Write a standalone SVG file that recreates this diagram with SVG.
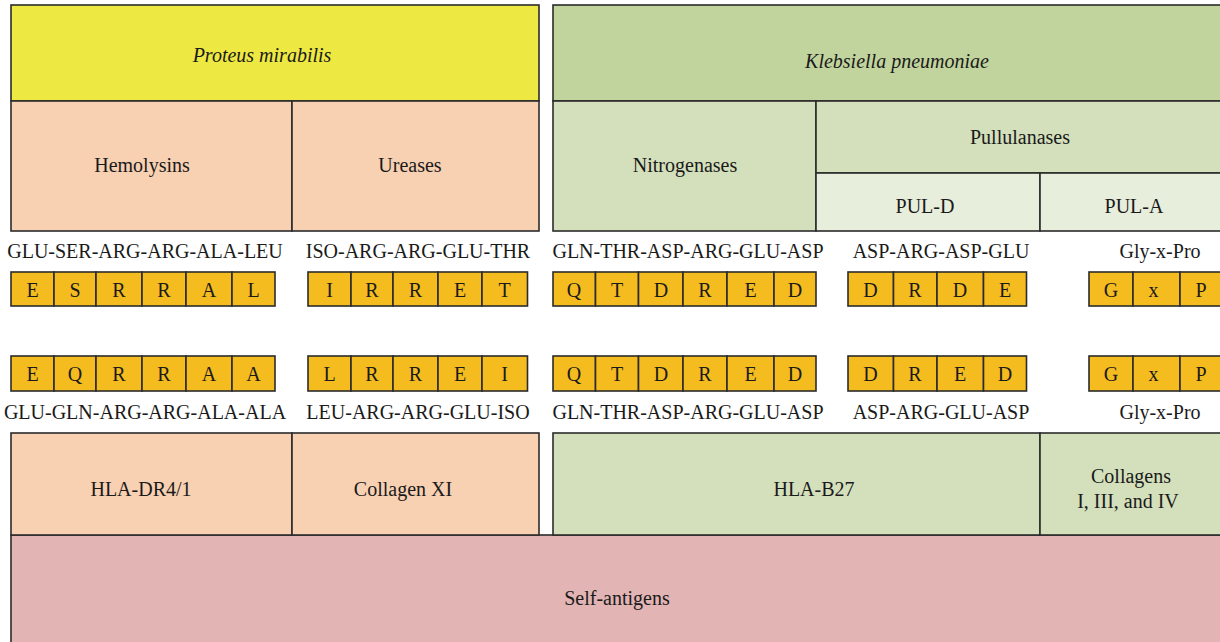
<svg xmlns="http://www.w3.org/2000/svg" width="1220" height="642" viewBox="0 0 1220 642">
<style>
  .b { stroke: #2b2b2b; stroke-width: 1.6; }
  .yel { fill: #EEE942; }
  .pch { fill: #F8D0B2; }
  .kg { fill: #C2D49D; }
  .lg { fill: #D4E0BC; }
  .vlg { fill: #E7EEDB; }
  .aa { fill: #F5BC1F; stroke: #2b2b2b; stroke-width: 1.6; }
  .self { fill: #E2B4B4; }
  text { font-family: "Liberation Serif", "DejaVu Serif", serif; font-size: 20px; fill: #1a1a1a; text-anchor: middle; }
  .it { font-style: italic; }
</style>
<rect width="1220" height="642" fill="#ffffff"/>

<g id="self-antigens">
  <rect class="b self" x="11" y="535" width="1225" height="120"/>
  <text x="617" y="605">Self-antigens</text>
</g>

<g id="proteus">
  <rect class="b yel" x="11" y="5" width="528" height="96"/>
  <text class="it" x="262" y="62">Proteus mirabilis</text>
</g>
<g id="hemolysins">
  <rect class="b pch" x="11" y="101" width="281" height="130"/>
  <text x="142" y="172">Hemolysins</text>
</g>
<g id="ureases">
  <rect class="b pch" x="292" y="101" width="247" height="130"/>
  <text x="410" y="172">Ureases</text>
</g>

<g id="klebsiella">
  <rect class="b kg" x="553" y="5" width="690" height="96"/>
  <text class="it" x="897" y="68">Klebsiella pneumoniae</text>
</g>
<g id="nitrogenases">
  <rect class="b lg" x="553" y="101" width="263" height="130"/>
  <text x="685" y="172">Nitrogenases</text>
</g>
<g id="pullulanases">
  <rect class="b lg" x="816" y="101" width="420" height="72"/>
  <text x="1020" y="144">Pullulanases</text>
</g>
<g id="pul-d">
  <rect class="b vlg" x="816" y="173" width="224" height="58"/>
  <text x="925" y="213">PUL-D</text>
</g>
<g id="pul-a">
  <rect class="b vlg" x="1040" y="173" width="196" height="58"/>
  <text x="1134" y="213">PUL-A</text>
</g>

<g id="labels-top">
  <text x="145" y="258">GLU-SER-ARG-ARG-ALA-LEU</text>
  <text x="418" y="258">ISO-ARG-ARG-GLU-THR</text>
  <text x="688" y="258">GLN-THR-ASP-ARG-GLU-ASP</text>
  <text x="941" y="258">ASP-ARG-ASP-GLU</text>
  <text x="1160" y="258">Gly-x-Pro</text>
</g>

<g id="seq-esrral">
  <rect class="aa" x="11" y="272" width="43" height="34"/><text x="32.5" y="297">E</text>
  <rect class="aa" x="54" y="272" width="42" height="34"/><text x="75" y="297">S</text>
  <rect class="aa" x="96" y="272" width="46" height="34"/><text x="119" y="297">R</text>
  <rect class="aa" x="142" y="272" width="44" height="34"/><text x="164" y="297">R</text>
  <rect class="aa" x="186" y="272" width="46" height="34"/><text x="209" y="297">A</text>
  <rect class="aa" x="232" y="272" width="43" height="34"/><text x="253.5" y="297">L</text>
</g>
<g id="seq-irret">
  <rect class="aa" x="308" y="272" width="43" height="34"/><text x="329.5" y="297">I</text>
  <rect class="aa" x="351" y="272" width="42" height="34"/><text x="372" y="297">R</text>
  <rect class="aa" x="393" y="272" width="45" height="34"/><text x="415.5" y="297">R</text>
  <rect class="aa" x="438" y="272" width="44" height="34"/><text x="460" y="297">E</text>
  <rect class="aa" x="482" y="272" width="45.5" height="34"/><text x="504.5" y="297">T</text>
</g>
<g id="seq-qtdred-top">
  <rect class="aa" x="553" y="272" width="42.5" height="34"/><text x="574" y="297">Q</text>
  <rect class="aa" x="595.5" y="272" width="43" height="34"/><text x="617" y="297">T</text>
  <rect class="aa" x="638.5" y="272" width="44.5" height="34"/><text x="661" y="297">D</text>
  <rect class="aa" x="683" y="272" width="44" height="34"/><text x="705" y="297">R</text>
  <rect class="aa" x="727" y="272" width="47" height="34"/><text x="750.5" y="297">E</text>
  <rect class="aa" x="774" y="272" width="42" height="34"/><text x="795" y="297">D</text>
</g>
<g id="seq-drde">
  <rect class="aa" x="848" y="272" width="45.5" height="34"/><text x="870.5" y="297">D</text>
  <rect class="aa" x="893.5" y="272" width="43.5" height="34"/><text x="915" y="297">R</text>
  <rect class="aa" x="937" y="272" width="46.5" height="34"/><text x="960" y="297">D</text>
  <rect class="aa" x="983.5" y="272" width="43" height="34"/><text x="1005" y="297">E</text>
</g>
<g id="seq-gxp-top">
  <rect class="aa" x="1089" y="272" width="44" height="34"/><text x="1111" y="297">G</text>
  <rect class="aa" x="1133" y="272" width="47" height="34"/><text x="1153.5" y="297">x</text>
  <rect class="aa" x="1180" y="272" width="50" height="34"/><text x="1201" y="297">P</text>
</g>

<g id="seq-eqrraa">
  <rect class="aa" x="11" y="356" width="43" height="35"/><text x="32.5" y="381">E</text>
  <rect class="aa" x="54" y="356" width="42" height="35"/><text x="75" y="381">Q</text>
  <rect class="aa" x="96" y="356" width="46" height="35"/><text x="119" y="381">R</text>
  <rect class="aa" x="142" y="356" width="44" height="35"/><text x="164" y="381">R</text>
  <rect class="aa" x="186" y="356" width="46" height="35"/><text x="209" y="381">A</text>
  <rect class="aa" x="232" y="356" width="43" height="35"/><text x="253.5" y="381">A</text>
</g>
<g id="seq-lrrei">
  <rect class="aa" x="308" y="356" width="43" height="35"/><text x="329.5" y="381">L</text>
  <rect class="aa" x="351" y="356" width="42" height="35"/><text x="372" y="381">R</text>
  <rect class="aa" x="393" y="356" width="45" height="35"/><text x="415.5" y="381">R</text>
  <rect class="aa" x="438" y="356" width="44" height="35"/><text x="460" y="381">E</text>
  <rect class="aa" x="482" y="356" width="45.5" height="35"/><text x="504.5" y="381">I</text>
</g>
<g id="seq-qtdred-bottom">
  <rect class="aa" x="553" y="356" width="42.5" height="35"/><text x="574" y="381">Q</text>
  <rect class="aa" x="595.5" y="356" width="43" height="35"/><text x="617" y="381">T</text>
  <rect class="aa" x="638.5" y="356" width="44.5" height="35"/><text x="661" y="381">D</text>
  <rect class="aa" x="683" y="356" width="44" height="35"/><text x="705" y="381">R</text>
  <rect class="aa" x="727" y="356" width="47" height="35"/><text x="750.5" y="381">E</text>
  <rect class="aa" x="774" y="356" width="42" height="35"/><text x="795" y="381">D</text>
</g>
<g id="seq-dred">
  <rect class="aa" x="848" y="356" width="45.5" height="35"/><text x="870.5" y="381">D</text>
  <rect class="aa" x="893.5" y="356" width="43.5" height="35"/><text x="915" y="381">R</text>
  <rect class="aa" x="937" y="356" width="46.5" height="35"/><text x="960" y="381">E</text>
  <rect class="aa" x="983.5" y="356" width="43" height="35"/><text x="1005" y="381">D</text>
</g>
<g id="seq-gxp-bottom">
  <rect class="aa" x="1089" y="356" width="44" height="35"/><text x="1111" y="381">G</text>
  <rect class="aa" x="1133" y="356" width="47" height="35"/><text x="1153.5" y="381">x</text>
  <rect class="aa" x="1180" y="356" width="50" height="35"/><text x="1201" y="381">P</text>
</g>

<g id="labels-bottom">
  <text x="145" y="419">GLU-GLN-ARG-ARG-ALA-ALA</text>
  <text x="418" y="419">LEU-ARG-ARG-GLU-ISO</text>
  <text x="688" y="419">GLN-THR-ASP-ARG-GLU-ASP</text>
  <text x="941" y="419">ASP-ARG-GLU-ASP</text>
  <text x="1160" y="419">Gly-x-Pro</text>
</g>

<g id="hla-dr4">
  <rect class="b pch" x="11" y="433" width="281" height="102"/>
  <text x="141" y="496">HLA-DR4/1</text>
</g>
<g id="collagen-xi">
  <rect class="b pch" x="292" y="433" width="247" height="102"/>
  <text x="403" y="496">Collagen XI</text>
</g>
<g id="hla-b27">
  <rect class="b lg" x="553" y="433" width="487" height="102"/>
  <text x="814" y="496">HLA-B27</text>
</g>
<g id="collagens">
  <rect class="b lg" x="1040" y="433" width="196" height="102"/>
  <text x="1131" y="483">Collagens</text>
  <text x="1128" y="508">I, III, and IV</text>
</g>

<g id="connectors"></g>
</svg>
